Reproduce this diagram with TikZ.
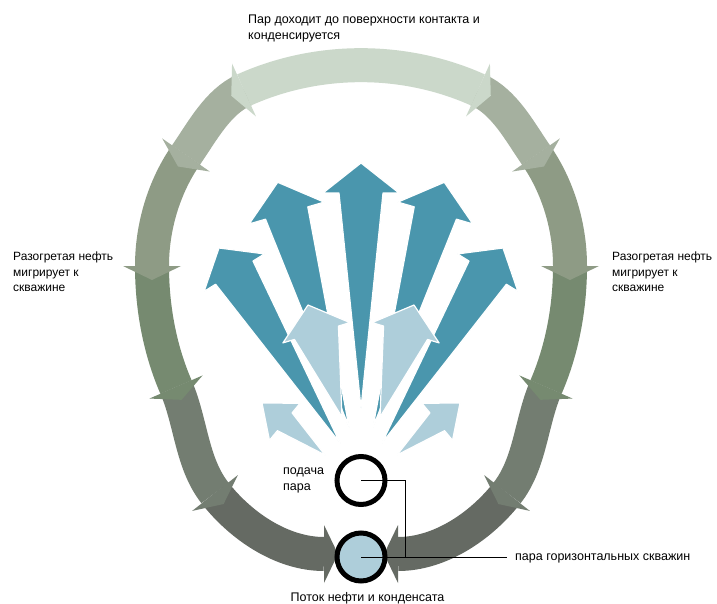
\documentclass[tikz,border=0pt]{standalone}
\usepackage{fontspec}
\setmainfont{Liberation Sans}
\usetikzlibrary{calc}
\definecolor{rtop}{HTML}{CBD8CA}
\definecolor{rtwo}{HTML}{A5B09F}
\definecolor{rthree}{HTML}{8E9B85}
\definecolor{rfour}{HTML}{768A70}
\definecolor{rfive}{HTML}{737D71}
\definecolor{rsix}{HTML}{656A63}
\definecolor{fandark}{HTML}{4A96AD}
\definecolor{fanlight}{HTML}{AECEDA}
\newcommand\ringhead[3]{\fill[#3, shift={(#1)}, rotate=#2] (0pt,29pt) -- (14pt,0pt) -- (0pt,-29pt) -- cycle;}
\newcommand\fanarrow[7]{%
  \coordinate (#1h) at ($(#2)!#4!(#3)$);
  \filldraw[#7] (#2) -- ($(#1h)!#5!90:(#2)$) -- ($(#1h)!#6!90:(#2)$) -- (#3)
     -- ($(#1h)!#6!-90:(#2)$) -- ($(#1h)!#5!-90:(#2)$) -- cycle;}
\begin{document}
\begin{tikzpicture}[x=1pt,y=-1pt,
  band/.style={line width=34pt},
  darkfan/.style={fill=fandark, draw=white, line width=1.2pt, line join=round},
  lightfan/.style={fill=fanlight, draw=white, line width=1.2pt, line join=round},
  well/.style={circle, draw=black, line width=5pt, minimum size=48pt, inner sep=0pt},
  lbl/.style={font=\fontsize{12.5}{15.5}\selectfont, inner sep=0pt, text=black},
  sidelbl/.style={font=\fontsize{12}{15.5}\selectfont, inner sep=0pt, text=black},
  leader/.style={draw=black, line width=1pt}]
\fill[white] (0,0) rectangle (717,604);
\useasboundingbox (0,0) rectangle (717,604);
% ring points
\coordinate (L1) at (244,90);  \coordinate (R1) at (478,90);
\coordinate (L2) at (186,155); \coordinate (R2) at (536,155);
\coordinate (L3) at (152,266); \coordinate (R3) at (570,266);
\coordinate (L4) at (176,387); \coordinate (R4) at (546,387);
\coordinate (L5) at (215,493); \coordinate (R5) at (507,493);
\coordinate (L6) at (324,554); \coordinate (R6) at (398,554);
% ring segments, bottom first
\draw[band, rsix] (L5) .. controls (241,526.2) and (282,554) .. (L6);
\draw[band, rsix] (R5) .. controls (481,526.2) and (440,554) .. (R6);
\ringhead{L6}{0}{rsix} \ringhead{R6}{180}{rsix}
\draw[band, rfive] (L4) .. controls (191.2,422) and (191.4,463) .. (L5);
\draw[band, rfive] (R4) .. controls (530.8,422) and (530.6,463) .. (R5);
\ringhead{L5}{308.1}{rfive} \ringhead{R5}{231.9}{rfive}
\draw[band, rfour] (L3) .. controls (152,307) and (159.6,349.3) .. (L4);
\draw[band, rfour] (R3) .. controls (570,307) and (562.4,349.3) .. (R4);
\ringhead{L4}{293.5}{rfour} \ringhead{R4}{246.5}{rfour}
\draw[band, rthree] (L2) .. controls (163.8,187) and (152,227) .. (L3);
\draw[band, rthree] (R2) .. controls (558.2,187) and (570,227) .. (R3);
\ringhead{L3}{270}{rthree} \ringhead{R3}{270}{rthree}
\draw[band, rtwo] (L1) .. controls (217.6,101.9) and (202.5,131.2) .. (L2);
\draw[band, rtwo] (R1) .. controls (504.4,101.9) and (519.5,131.2) .. (R2);
\ringhead{L2}{235.2}{rtwo} \ringhead{R2}{304.8}{rtwo}
\draw[band, rtop] (L1) .. controls (317.5,56.9) and (404.5,56.9) .. (R1);
\ringhead{L1}{204.3}{rtop} \ringhead{R1}{335.7}{rtop}
% fan arrows
\coordinate (d2t) at (219,248);   \coordinate (d2b) at (340,443);
\coordinate (d2rt) at (503,248);  \coordinate (d2rb) at (382,443);
\coordinate (d1t) at (277.7,182.3); \coordinate (d1b) at (349,427);
\coordinate (d1rt) at (444.3,182.3); \coordinate (d1rb) at (373,427);
\coordinate (d0t) at (361,163);   \coordinate (d0b) at (361,408);
\coordinate (l1t) at (308,305);   \coordinate (l1b) at (342,417);
\coordinate (l1rt) at (414,305);  \coordinate (l1rb) at (380,417);
\coordinate (l2t) at (262,403);   \coordinate (l2b) at (325,455);
\coordinate (l2rt) at (460,403);  \coordinate (l2rb) at (397,455);
\fanarrow{da}{d2t}{d2b}{29pt}{35.5pt}{22pt}{darkfan}
\fanarrow{db}{d2rt}{d2rb}{29pt}{35.5pt}{22pt}{darkfan}
\fanarrow{dc}{d1t}{d1b}{32pt}{39pt}{22pt}{darkfan}
\fanarrow{dd}{d1rt}{d1rb}{32pt}{39pt}{22pt}{darkfan}
\fanarrow{de}{d0t}{d0b}{30pt}{38pt}{22pt}{darkfan}
\fanarrow{la}{l1t}{l1b}{29pt}{35pt}{23pt}{lightfan}
\fanarrow{lb}{l1rt}{l1rb}{29pt}{35pt}{23pt}{lightfan}
\fanarrow{lc}{l2t}{l2b}{29.5pt}{24pt}{11.5pt}{lightfan}
\fanarrow{ld}{l2rt}{l2rb}{29.5pt}{24pt}{11.5pt}{lightfan}
% wells
\node[well, fill=white] (feed) at (361,480.5) {};
\node[well, fill=fanlight] (prod) at (361,557) {};
% labels
\node[lbl, anchor=base west] (toplbl) at (248,24) {\vtop{\hbox{Пар доходит до поверхности контакта и}\hbox{конденсируется}}};
\node[sidelbl, anchor=base west] (leftlbl) at (13,260.5) {\vtop{\hbox{Разогретая нефть}\hbox{мигрирует к}\hbox{скважине}}};
\node[sidelbl, anchor=base west] (rightlbl) at (612,260.5) {\vtop{\hbox{Разогретая нефть}\hbox{мигрирует к}\hbox{скважине}}};
\node[lbl, anchor=base west] (feedlbl) at (283,474.5) {\vtop{\hbox{подача}\hbox{пара}}};
\node[lbl, anchor=base west, inner xsep=8pt] (pairlbl) at (507,560.5) {пара горизонтальных скважин};
\node[lbl, anchor=base] (flowlbl) at (367.5,601.5) {Поток нефти и конденсата};
% leaders
\coordinate (jn) at (405,480.5);
\draw[leader] (feed.center) -- (jn) -- (jn |- prod.center);
\draw[leader] (prod.center) -- (prod.center -| pairlbl.west);
\end{tikzpicture}
\end{document}
